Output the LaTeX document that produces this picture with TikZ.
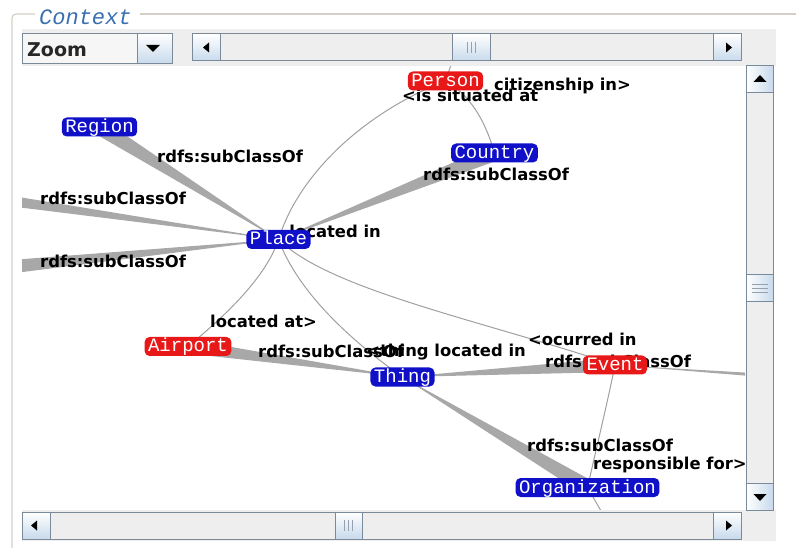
\documentclass[tikz,border=0pt]{standalone}
\usepackage{fontspec}
\setmainfont{DejaVu Sans}
\newfontfamily\monofnt{Liberation Mono}
\usetikzlibrary{calc}
\pgfdeclarelayer{bg}
\pgfdeclarelayer{edgelayer}
\pgfdeclarelayer{labellayer}
\pgfsetlayers{bg,edgelayer,labellayer,main}
\definecolor{bordergray}{HTML}{D4D0C8}
\definecolor{titleblue}{HTML}{3A6FB0}
\definecolor{panelgray}{HTML}{EEEEEE}
\definecolor{sbborder}{HTML}{7A8A99}
\definecolor{btnblue}{HTML}{C8DAEC}
\definecolor{nodeblue}{HTML}{1010C8}
\definecolor{nodered}{HTML}{E81818}
\definecolor{wedgegray}{HTML}{A8A8A8}
\definecolor{edgegray}{HTML}{A0A0A0}
\newcommand\lblfont{\fontsize{16.4}{18}\selectfont\bfseries}
\newcommand\nodefnt{\monofnt\fontsize{19}{19}\selectfont}
\newcommand\taper[3]{\fill[wedgegray] ($(#1.center)!#3!90:(#2.center)$) -- ($(#1.center)!#3!-90:(#2.center)$) -- (#2.center) -- cycle;}
\begin{document}
\begin{tikzpicture}[x=1pt,y=-1pt,
  cls/.style={rounded corners=5pt, inner xsep=3.5pt, inner ysep=3pt, text height=12pt, text depth=1pt, font=\nodefnt, text=white},
  clsb/.style={cls, fill=nodeblue},
  clsr/.style={cls, fill=nodered},
  lbl/.style={font=\lblfont, inner sep=0pt, anchor=base west, text=black},
  lble/.style={lbl, anchor=base east},
  thinedge/.style={draw=edgegray, line width=1pt},
  sbline/.style={draw=sbborder, line width=1pt},
  btn/.style={sbline, top color=white, bottom color=btnblue},
  vbtn/.style={sbline, left color=white, right color=btnblue},
  grip/.style={draw=sbborder!80!white, line width=0.8pt}]
\useasboundingbox (0,0) rectangle (796,548);
\begin{pgfonlayer}{bg}
\fill[white] (0,0) rectangle (796,548);
\end{pgfonlayer}

% graph nodes
\begin{scope}
\clip (22,66) rectangle (745,510);
\node[clsb] (region) at (99.5,127) {Region};
\node[clsr] (person) at (445.5,81) {Person};
\node[clsb] (country) at (494.5,153) {Country};
\node[clsb] (place) at (278.5,239.5) {Place};
\node[clsr] (airport) at (188,346.5) {Airport};
\node[clsb] (thing) at (402.5,377) {Thing};
\node[clsr] (event) at (615,365) {Event};
\node[clsb] (org) at (587.5,487.5) {Organization};
\end{scope}
\coordinate (offl1) at (-80,188);
\coordinate (offl2) at (-80,276);
\coordinate (offr) at (830,380);
\coordinate (offt) at (463,30);
\coordinate (offb) at (612,530);

\begin{pgfonlayer}{edgelayer}
\begin{scope}
\clip (22,66) rectangle (745,510);
\taper{region}{place}{8pt}
\taper{country}{place}{8pt}
\taper{offl1}{place}{7pt}
\taper{offl2}{place}{9pt}
\taper{airport}{thing}{7pt}
\taper{event}{thing}{7pt}
\taper{org}{thing}{8pt}
\taper{offr}{event}{2.5pt}
\draw[thinedge] (place.center) .. controls (300,170) and (370,110) .. (person.center);
\draw[thinedge] (person.center) .. controls (470,95) and (485,120) .. (country.center);
\draw[thinedge] (person.center) -- (offt);
\draw[thinedge] (place.center) .. controls (265,280) and (220,320) .. (airport.center);
\draw[thinedge] (place.center) .. controls (298,292) and (350,340) .. (thing.center);
\draw[thinedge] (place.center) .. controls (330,290) and (480,320) .. (event.center);
\draw[thinedge] (event.center) .. controls (608,400) and (596,450) .. (org.center);
\draw[thinedge] (org.center) -- (offb);
\end{scope}
\end{pgfonlayer}

\begin{pgfonlayer}{labellayer}
\begin{scope}
\clip (22,66) rectangle (745,510);
\node[lbl] (l1) at (494,91) {citizenship in>};
\node[lbl] (l2) at (402,102) {<is situated at};
\node[lbl] (l3) at (157,163) {rdfs:subClassOf};
\node[lbl] (l4) at (423,181) {rdfs:subClassOf};
\node[lbl] (l5) at (40,205) {rdfs:subClassOf};
\node[lbl] (l6) at (40,268) {rdfs:subClassOf};
\node[lble] (l7) at (381,238) {located in};
\node[lbl] (l8) at (210,328) {located at>};
\node[lbl] (l9) at (258,357) {rdfs:subClassOf};
\node[lble] (l10) at (526,356) {<thing located in};
\node[lbl] (l11) at (528,345) {<ocurred in};
\node[lbl] (l12) at (545,367) {rdfs:subClassOf};
\node[lbl] (l13) at (527,451) {rdfs:subClassOf};
\node[lbl] (l14) at (593,469) {responsible for>};
\end{scope}
\end{pgfonlayer}

% titled border
\draw[bordergray, line width=1.2pt, rounded corners=4pt] (35,14) -- (12,14) -- (12,548);
\draw[bordergray, line width=1.2pt] (140,14) -- (796,14);
\node[anchor=base west, text=titleblue, font=\monofnt\itshape\fontsize{22}{22}\selectfont, inner sep=0pt] (title) at (39,25) {Context};

% panel strips
\fill[panelgray] (22,29) rectangle (776,66);
\fill[panelgray] (22,510) rectangle (776,541);

% combo box
\draw[sbline, fill=panelgray!50!white] (22.5,33.5) rectangle (137,63.5);
\draw[btn] (137,33.5) rectangle (172,63.5);
\fill (146,45) -- (160,45) -- (153,52) -- cycle;
\node[anchor=base west, font=\fontsize{19}{19}\selectfont\bfseries, text=black!85, inner sep=0pt] (zoomtxt) at (27,57) {Zoom};

% top horizontal scrollbar
\draw[sbline, fill=panelgray] (192,34) rectangle (741,61);
\draw[btn] (192,34) rectangle (220,61);
\fill (203,47.5) -- (209,42.5) -- (209,52.5) -- cycle;
\draw[btn] (713,34) rectangle (741,61);
\fill (732,47.5) -- (726,42.5) -- (726,52.5) -- cycle;
\draw[btn] (452,34) rectangle (490,61);
\foreach \gx in {467,471,475} \draw[grip] (\gx,42) -- (\gx,53);

% vertical scrollbar
\draw[sbline, fill=panelgray] (746,66) rectangle (773,510);
\draw[vbtn] (746,66) rectangle (773,93);
\fill (760,75) -- (766.5,82) -- (753.5,82) -- cycle;
\draw[vbtn] (746,483) rectangle (773,510);
\fill (760,501) -- (766.5,494) -- (753.5,494) -- cycle;
\draw[vbtn] (746,275) rectangle (773,302);
\foreach \gy in {284,288,292} \draw[grip] (752,\gy) -- (768,\gy);

% bottom horizontal scrollbar
\draw[sbline, fill=panelgray] (22,512) rectangle (741,539);
\draw[btn] (22,512) rectangle (50,539);
\fill (31,525.5) -- (37,520.5) -- (37,530.5) -- cycle;
\draw[btn] (713,512) rectangle (741,539);
\fill (732,525.5) -- (726,520.5) -- (726,530.5) -- cycle;
\draw[btn] (335,512) rectangle (362,539);
\foreach \gx in {344.5,348.5,352.5} \draw[grip] (\gx,520) -- (\gx,531);
\end{tikzpicture}
\end{document}
